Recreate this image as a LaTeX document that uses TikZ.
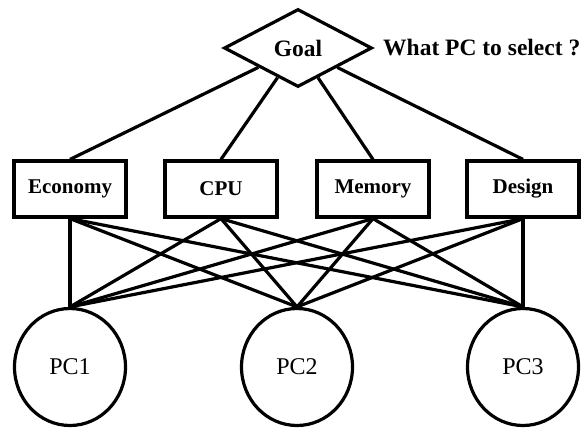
\documentclass[tikz,border=0pt]{standalone}
\usepackage{fontspec}
\setmainfont{Liberation Serif}
\usetikzlibrary{shapes.geometric}
\begin{document}
\begin{tikzpicture}[x=1pt,y=-1pt,
  lw/.style={line width=3.2pt},
  lnk/.style={lw},
  crit/.style={draw,lw,minimum width=112pt,minimum height=56pt,inner sep=0pt,font=\fontsize{21}{24}\selectfont\bfseries},
  alt/.style={draw,ellipse,lw,minimum width=111pt,minimum height=117pt,inner sep=0pt,font=\fontsize{24}{27}\selectfont},
  goalbox/.style={draw,diamond,lw,minimum width=148pt,minimum height=78pt,inner sep=0pt,font=\fontsize{23.5}{26}\selectfont\bfseries},
  qtext/.style={font=\fontsize{23.5}{26}\selectfont\bfseries,inner sep=0pt}]
\useasboundingbox (0,0) rectangle (583,428);
\node[goalbox] (goal) at (298,48) {Goal};
\node[qtext,anchor=west] (q) at (383,48) {What PC to select ?};
\node[crit] (eco) at (70,189) {Economy};
\node[crit] (cpu) at (221,189) {CPU};
\node[crit] (mem) at (373,189) {Memory};
\node[crit] (des) at (523,189) {Design};
\node[alt] (p1) at (70,367) {PC1};
\node[alt] (p2) at (297,367) {PC2};
\node[alt] (p3) at (523,367) {PC3};
\foreach \b in {eco,cpu,mem,des}{
  \draw[lnk] (goal) -- (\b.north);
  \foreach \p in {p1,p2,p3}{\draw[lnk] (\b.south) -- (\p.north);}
}
\end{tikzpicture}
\end{document}
